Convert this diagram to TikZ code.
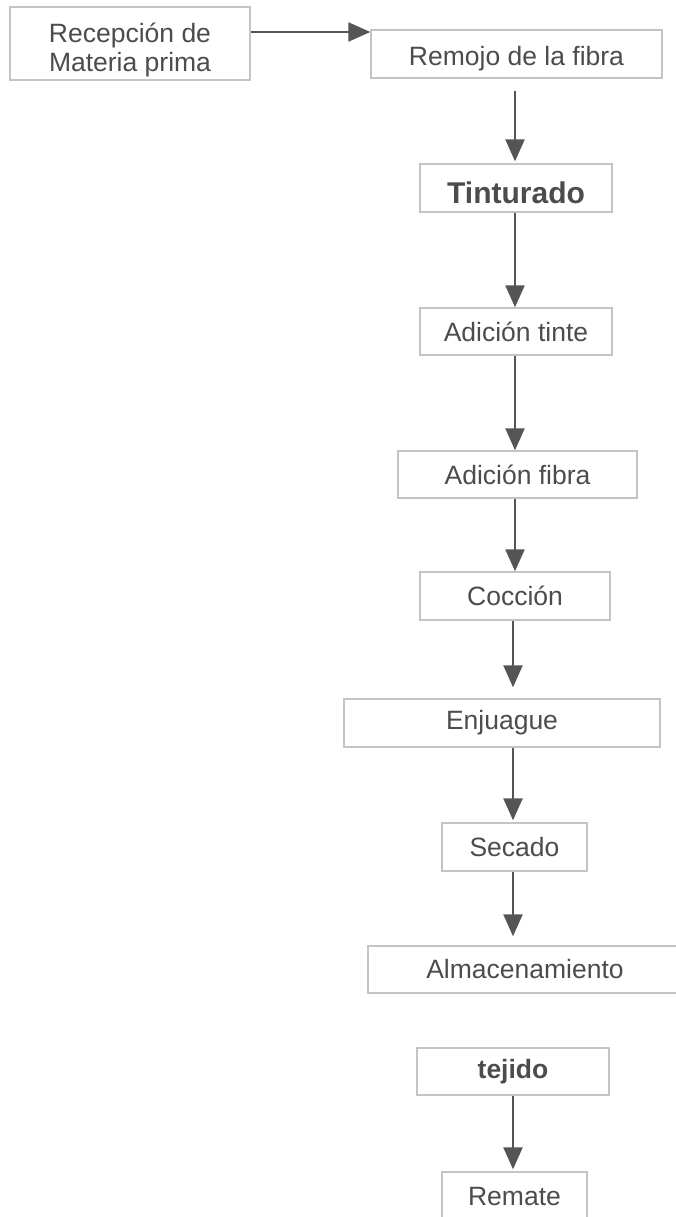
\documentclass[tikz,border=0pt]{standalone}
\usepackage{fontspec}
\setmainfont{Liberation Sans}
\usetikzlibrary{arrows.meta}
\definecolor{boxgray}{HTML}{C4C4C4}
\definecolor{txtgray}{HTML}{4C4C4C}
\definecolor{arrgray}{HTML}{555555}
\tikzset{
  procbox/.style={draw=boxgray, line width=1.4pt, inner sep=0pt, text=txtgray,
    font=\fontsize{26.5}{29}\selectfont, align=center},
  boldbox/.style={procbox, font=\fontsize{26.5}{29}\selectfont\bfseries},
  flow/.style={draw=arrgray, line width=2.4pt,
    -{Triangle[length=22pt,width=19pt]}}
}
\begin{document}
\begin{tikzpicture}[x=1pt,y=-1pt]
\useasboundingbox[fill=white] (0,0) rectangle (676,1217);
\node[procbox, minimum width=240pt, minimum height=73pt] (recep) at (130,43.5)
  {\rule{0pt}{32pt}Recepción de\\Materia prima};
\node[procbox, minimum width=291pt, minimum height=48pt] (remojo) at (516.5,54)
  {\rule{0pt}{28pt}Remojo de la fibra};
\node[boldbox, font=\fontsize{30}{32}\selectfont\bfseries, minimum width=192pt, minimum height=48pt] (tint) at (516,188)
  {\rule{0pt}{32pt}Tinturado};
\node[procbox, minimum width=192pt, minimum height=47pt] (atinte) at (516,331.5)
  {Adición tinte};
\node[procbox, minimum width=239pt, minimum height=47pt] (afibra) at (517.5,474.5)
  {Adición fibra};
\node[procbox, minimum width=190pt, minimum height=48pt] (coccion) at (515,596)
  {Cocción};
\node[procbox, minimum width=316pt, minimum height=48pt] (enjuague) at (502,723)
  {Enjuague};
\node[procbox, minimum width=145pt, minimum height=48pt] (secado) at (514.5,847)
  {Secado};
\node[procbox, minimum width=314pt, minimum height=47pt] (almac) at (525,969.5)
  {Almacenamiento};
\node[boldbox, minimum width=192pt, minimum height=47pt] (tejido) at (513,1071.5)
  {tejido};
\node[procbox, minimum width=145pt, minimum height=48pt] (remate) at (514.5,1196)
  {Remate};
\coordinate (ay) at (0,32);
\coordinate (ax) at (515,0);
\coordinate (bx) at (513,0);
\draw[flow] (recep.east |- ay) -- (remojo.west |- ay);
\draw[flow, shorten <=12pt, shorten >=2pt] (remojo.south -| ax) -- (tint.north -| ax);
\draw[flow] (tint.south -| ax) -- (atinte.north -| ax);
\draw[flow] (atinte.south -| ax) -- (afibra.north -| ax);
\draw[flow] (afibra.south -| ax) -- (coccion.north -| ax);
\draw[flow, shorten >=11pt] (coccion.south -| bx) -- (enjuague.north -| bx);
\draw[flow, shorten >=2pt] (enjuague.south -| bx) -- (secado.north -| bx);
\draw[flow, shorten >=9pt] (secado.south -| bx) -- (almac.north -| bx);
\draw[flow, shorten >=2pt] (tejido.south -| bx) -- (remate.north -| bx);
\end{tikzpicture}
\end{document}
